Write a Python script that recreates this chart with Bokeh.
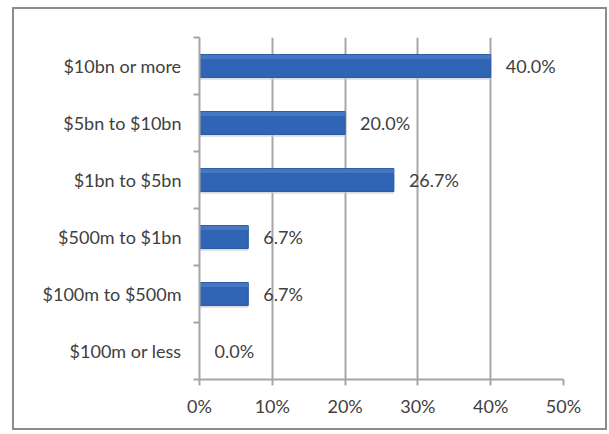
from bokeh.plotting import figure
from bokeh.models import ColumnDataSource, Range1d, FixedTicker, NumeralTickFormatter
from bokeh.core.properties import value
from bokeh.embed import file_html
from bokeh.resources import INLINE

categories = ["$100m or less", "$100m to $500m", "$500m to $1bn", "$1bn to $5bn", "$5bn to $10bn", "$10bn or more"]
shares = [0.0, 6.7, 6.7, 26.7, 20.0, 40.0]
x_ticks = [0, 10, 20, 30, 40, 50]

FONT = "Lato"
TXT = "#404040"
FS = "18px"

ypos = [i + 0.5 for i in range(len(categories))]
src = ColumnDataSource(dict(
    y=ypos,
    y_hi=[y + 0.16 for y in ypos],
    y_sh=[y - 0.215 for y in ypos],
    v=[s / 100 for s in shares],
    lbl=["%.1f%%" % s for s in shares],
))

p = figure(output_backend="svg", toolbar_location=None,
           x_range=Range1d(0, 0.5), y_range=Range1d(0, len(categories)),
           frame_width=364, frame_height=342,
           min_border_left=185, min_border_right=42,
           min_border_top=28, min_border_bottom=49)
p.margin = (7, 0, 0, 12)
p.styles = {"border": "2px solid #8c8c8c"}
p.outline_line_color = None
p.background_fill_color = "white"
p.border_fill_color = "white"

# bars: soft shadow, body, lighter top edge
p.hbar(y="y_sh", right="v", left=0, height=0.05, source=src,
       fill_color="#c9ccd2", line_color=None, fill_alpha=0.7)
p.hbar(y="y", right="v", left=0, height=0.4, source=src,
       fill_color="#3064b4", line_color="#25559f", line_width=1)
p.hbar(y="y_hi", right="v", left=0, height=0.07, source=src,
       fill_color="#5a8ad0", line_color=None, fill_alpha=0.5)

p.text(x="v", y="y", text="lbl", source=src, x_offset=15,
       text_font=value(FONT), text_font_size=FS, text_color=TXT,
       text_align="left", text_baseline="middle")

# x axis
xa = p.xaxis[0]
xa.ticker = FixedTicker(ticks=[t / 100 for t in x_ticks])
xa.formatter = NumeralTickFormatter(format="0%")
xa.axis_line_color = "#a6a6a6"
xa.axis_line_width = 2
xa.major_tick_line_color = "#a6a6a6"
xa.major_tick_line_width = 2
xa.major_tick_out = 6
xa.major_tick_in = 0
xa.minor_tick_line_color = None
xa.major_label_standoff = 9
xa.major_label_text_font = FONT
xa.major_label_text_font_size = FS
xa.major_label_text_color = TXT

# y axis
ya = p.yaxis[0]
ya.ticker = FixedTicker(ticks=ypos, minor_ticks=list(range(len(categories) + 1)))
ya.major_label_overrides = {y: c for y, c in zip(ypos, categories)}
ya.axis_line_color = "#a6a6a6"
ya.axis_line_width = 2
ya.major_tick_line_color = None
ya.major_tick_out = 0
ya.major_tick_in = 0
ya.minor_tick_line_color = "#a6a6a6"
ya.minor_tick_line_width = 2
ya.minor_tick_out = 6
ya.minor_tick_in = 0
ya.major_label_standoff = 12
ya.major_label_text_font = FONT
ya.major_label_text_font_size = FS
ya.major_label_text_color = TXT

p.xgrid.grid_line_color = "#a6a6a6"
p.xgrid.grid_line_width = 2
p.ygrid.grid_line_color = None

open("out.html", "w").write(file_html(p, INLINE))
